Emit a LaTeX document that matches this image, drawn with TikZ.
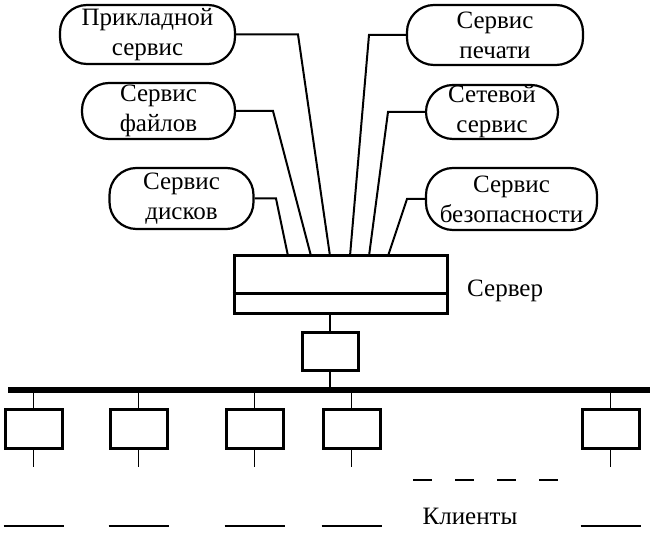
\documentclass[tikz,border=0pt]{standalone}
\usepackage{fontspec}
\setmainfont{Liberation Serif}
\begin{document}
\begin{tikzpicture}[x=1pt,y=-1pt,
  every node/.style={font=\fontsize{25}{30}\selectfont},
  svc/.style={draw, line width=2.2pt, rounded corners=27pt, inner sep=0pt, align=center},
  box/.style={draw, line width=3pt, inner sep=0pt},
  conn/.style={line width=2pt},
  thin/.style={line width=1pt},
  lbl/.style={inner sep=0pt}]
\useasboundingbox (0,0) rectangle (654,534);
% services
\node[svc, minimum width=175pt, minimum height=59pt] (app) at (147.5,34.5) {Прикладной\\сервис};
\node[svc, minimum width=153pt, minimum height=56pt] (files) at (158.5,111) {Сервис\\файлов};
\node[svc, minimum width=144pt, minimum height=61pt] (disks) at (181.5,198.5) {Сервис\\дисков};
\node[svc, minimum width=176pt, minimum height=60pt] (print) at (495,35) {Сервис\\печати};
\node[svc, minimum width=132pt, minimum height=54pt] (net) at (492,112) {Сетевой\\сервис};
\node[svc, minimum width=171pt, minimum height=62pt] (sec) at (511.5,199) {Сервис\\безопасности};
% server
\node[box, minimum width=213pt, minimum height=58pt] (srv) at (340.5,285) {};
\draw[line width=3pt] (srv.west |- 0,294) -- (srv.east |- 0,294);
\node[lbl, anchor=west] (srvlbl) at (467,291) {Сервер};
\coordinate (s1) at (288,256);
\coordinate (s2) at (311,256);
\coordinate (s3) at (330,256);
\coordinate (s4) at (350,256);
\coordinate (s5) at (369,256);
\coordinate (s6) at (388,256);
\draw[conn] (app.east) -- (298,34.5) -- (s3);
\draw[conn] (files.east) -- (273,111) -- (s2);
\draw[conn] (disks.east) -- (276,198.5) -- (s1);
\draw[conn] (print.west) -- (369,35) -- (s4);
\draw[conn] (net.west) -- (388,112) -- (s5);
\draw[conn] (sec.west) -- (407,199) -- (s6);
% adapter
\node[box, minimum width=56pt, minimum height=38pt] (nic) at (330,352) {};
\coordinate (busL) at (8,390);
\coordinate (busR) at (650,390);
\coordinate (busN) at (330,390);
\draw[conn, line width=2.5pt] (srv.south -| nic.north) -- (nic.north);
\draw[conn, line width=2.5pt] (nic.south) -- (busN);
\draw[line width=6pt] (busL) -- (busR);
% clients
\foreach \i/\x in {1/33.5,2/138.5,3/254.5,4/351.5,5/610.5}{
  \node[box, minimum width=57pt, minimum height=39pt] (c\i) at (\x,429) {};
  \coordinate (t\i) at (\x,393);
  \coordinate (b\i) at (\x,467);
  \coordinate (l\i) at (\x-30,526);
  \coordinate (r\i) at (\x+30,526);
  \draw[thin] (t\i) -- (c\i.north);
  \draw[thin] (c\i.south) -- (b\i);
  \draw[line width=2.5pt] (l\i) -- (r\i);
}
\coordinate (dA) at (413,480);
\coordinate (dB) at (558,480);
\draw[line width=1.3pt, dash pattern=on 19pt off 23pt] (dA) -- (dB);
\node[lbl] (cli) at (470,516) {Клиенты};
\end{tikzpicture}
\end{document}
